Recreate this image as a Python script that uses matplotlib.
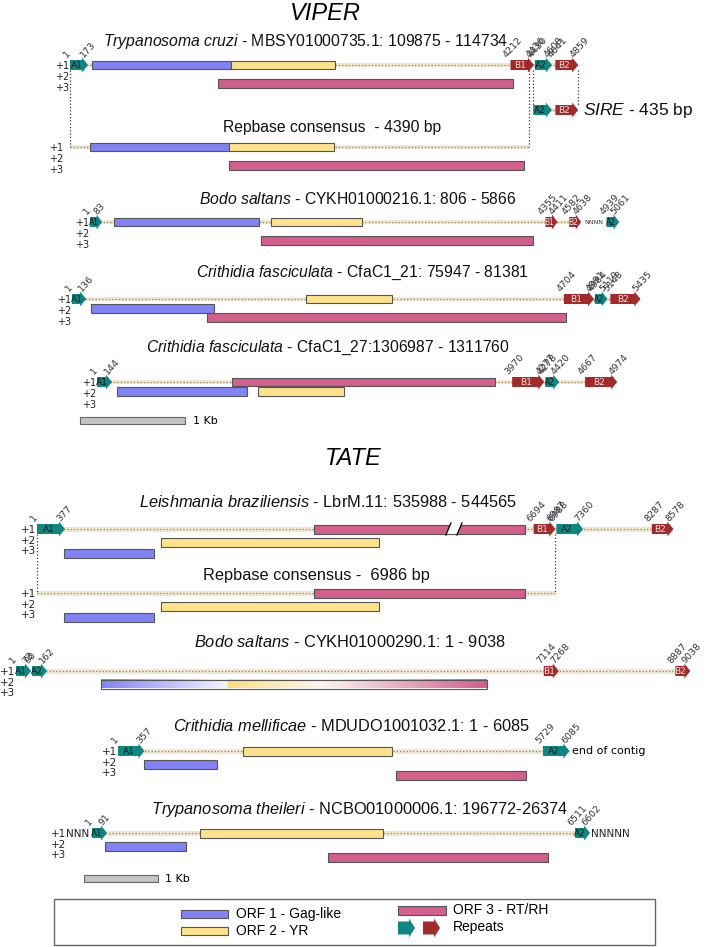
import matplotlib
matplotlib.use('Agg')
import matplotlib.pyplot as plt
import numpy as np
from matplotlib.patches import Rectangle, Polygon
from matplotlib.colors import LinearSegmentedColormap

plt.rcParams['font.family'] = ['Liberation Sans', 'DejaVu Sans']
plt.rcParams['mathtext.fontset'] = 'custom'
plt.rcParams['mathtext.it'] = 'Liberation Sans:italic'
plt.rcParams['mathtext.rm'] = 'Liberation Sans'

# ORFs: (start bp, end bp, reading frame, ORF number)   repeats: (start bp, end bp, name)
# ---------------- VIPER ----------------
tcruzi_name = ('Trypanosoma cruzi', 'MBSY01000735.1: 109875 - 114734')
tcruzi_len = 4859
tcruzi_orfs = [(210, 1539, 1, 1), (1539, 2533, 1, 2), (1415, 4235, 3, 3)]
tcruzi_repeats = [(1, 173, 'A1'), (4212, 4436, 'B1'), (4430, 4608, 'A2'), (4641, 4859, 'B2')]
sire_name = ('SIRE', '435 bp')
sire_repeats = [(4430, 4608, 'A2'), (4641, 4859, 'B2')]

viper_rep_name = 'Repbase consensus  - 4390 bp'
viper_rep_len = 4390
viper_rep_orfs = [(191, 1520, 1, 1), (1520, 2524, 1, 2), (1520, 4340, 3, 3)]

bodo1_name = ('Bodo saltans', 'CYKH01000216.1: 806 - 5866')
bodo1_len = 5061
bodo1_orfs = [(229, 1616, 1, 1), (1730, 2600, 1, 2), (1635, 4235, 3, 3)]
bodo1_repeats = [(1, 83, 'A1'), (4355, 4411, 'B1'), (4582, 4638, 'B2'), (4939, 5061, 'A2')]
bodo1_gap = (4638, 4939)

cfa21_name = ('Crithidia fasciculata', 'CfaC1_21: 75947 - 81381')
cfa21_len = 5435
cfa21_orfs = [(182, 1358, 2, 1), (2237, 3059, 1, 2), (1291, 4723, 3, 3)]
cfa21_repeats = [(1, 136, 'A1'), (4704, 4991, 'B1'), (4984, 5119, 'A2'), (5148, 5435, 'B2')]

cfa27_name = ('Crithidia fasciculata', 'CfaC1_27:1306987 - 1311760')
cfa27_len = 4974
cfa27_orfs = [(1291, 3805, 1, 3), (191, 1434, 2, 1), (1539, 2361, 2, 2)]
cfa27_repeats = [(1, 144, 'A1'), (3970, 4277, 'B1'), (4278, 4420, 'A2'), (4667, 4974, 'B2')]

# ---------------- TATE ----------------
leish_name = ('Leishmania braziliensis', 'LbrM.11: 535988 - 544565')
leish_len = 8578
leish_orfs = [(3733, 6577, 1, 3), (1671, 4609, 2, 2), (364, 1577, 3, 1)]
leish_break = (5539, 5701)
leish_repeats = [(1, 377, 'A1'), (6694, 6987, 'B1'), (6988, 7360, 'A2'), (8287, 8578, 'B2')]

tate_rep_name = 'Repbase consensus -  6986 bp'
tate_rep_len = 6986
tate_rep_orfs = [(3733, 6577, 1, 3), (1671, 4609, 2, 2), (364, 1577, 3, 1)]

bodo2_name = ('Bodo saltans', 'CYKH01000290.1: 1 - 9038')
bodo2_len = 9038
bodo2_orfs = [(1150, 6350, 2, 'mix')]
bodo2_repeats = [(1, 73, 'A1'), (90, 162, 'A2'), (7114, 7268, 'B1'), (8887, 9038, 'B2')]

cmel_name = ('Crithidia mellificae', 'MDUDO1001032.1: 1 - 6085')
cmel_len = 6085
cmel_orfs = [(1685, 3693, 1, 2), (350, 1334, 2, 1), (3747, 5499, 3, 3)]
cmel_repeats = [(1, 357, 'A1'), (5729, 6085, 'A2')]

tthe_name = ('Trypanosoma theileri', 'NCBO01000006.1: 196772-26374')
tthe_len = 6602
tthe_orfs = [(1456, 3922, 1, 2), (175, 1267, 2, 1), (3181, 6146, 3, 3)]
tthe_repeats = [(1, 91, 'A1'), (6511, 6602, 'A2')]

legend_labels = ['ORF 1 - Gag-like', 'ORF 2 - YR', 'ORF 3 - RT/RH', 'Repeats']
scale_bar_bp = 1000

# ---------------- drawing ----------------
orf_colors = {1: '#8282f7', 2: '#ffe38c', 3: '#d25f8c'}
rep_colors = {'A': '#0e8783', 'B': '#a12a2a'}
mix_cmap = LinearSegmentedColormap.from_list(
    'mix', [(0, '#8282f7'), (0.326, '#f3f3ff'), (0.327, '#fbe07c'),
            (0.575, '#fbf4f2'), (1, '#d25f8c')])

fig = plt.figure(figsize=(7.09, 9.47), dpi=100)
ax = fig.add_axes([0, 0, 1, 1])
ax.set_xlim(0, 709)
ax.set_ylim(947, 0)
ax.axis('off')

sv = 0.1046   # px per bp, VIPER
st = 0.0742   # px per bp, TATE
viper_style = dict(frame_dy=[0, 9.5, 18.5], row_dy=[1, 12, 23], bar_h=8.5, bb_h=4, row_fs=7, min_w=12)
tate_style = dict(frame_dy=[0, 13, 24], row_dy=[1, 11.5, 22], bar_h=9, bb_h=5, row_fs=7.5, min_w=15)


def px(x0, scale, bp):
    return x0 + (bp - 1) * scale


def backbone(xa, xb, y, h):
    ax.add_patch(Rectangle((xa, y - h / 2), xb - xa, h, facecolor='#f1e8d0', edgecolor='none', zorder=1))
    ax.plot([xa, xb], [y, y], ls=':', color='#8a8164', lw=0.9, zorder=2)


def arrow(xs, xe, y, kind, name=None, body_h=10, tip_h=15, tip=6):
    tip = min(tip, (xe - xs) * 0.45)
    pts = [(xs, y - body_h / 2), (xe - tip, y - body_h / 2), (xe - tip, y - tip_h / 2), (xe, y),
           (xe - tip, y + tip_h / 2), (xe - tip, y + body_h / 2), (xs, y + body_h / 2)]
    ax.add_patch(Polygon(pts, closed=True, facecolor=rep_colors[kind], edgecolor='none', zorder=4))
    if name:
        fs = 6.5 if xe - xs >= 14 else 5.5
        tc = '#111111' if kind == 'A' else '#f4dcdc'
        ax.text((xs + xe - tip) / 2 + 0.5, y + 0.5, name, fontsize=fs, color=tc, ha='center', va='center',
                family='DejaVu Sans', zorder=5)


def bar(xs, xe, yc, h, kind):
    if kind == 'mix':
        ax.imshow(np.linspace(0, 1, 256)[None, :], cmap=mix_cmap, aspect='auto',
                  extent=(xs, xe, yc + h / 2, yc - h / 2), zorder=3)
        ax.add_patch(Rectangle((xs, yc - h / 2), xe - xs, h, facecolor='none', edgecolor='#555555', lw=0.8, zorder=3))
    else:
        ax.add_patch(Rectangle((xs, yc - h / 2), xe - xs, h, facecolor=orf_colors[kind],
                               edgecolor='#555555', lw=0.8, zorder=3))


def track(x0, y, scale, length, orfs, repeats, style, lab_x=None, segments=None, numbers=True, rows=True):
    if segments is None:
        segments = [(1, length)]
    for a, b in segments:
        backbone(px(x0, scale, a), px(x0, scale, b), y, style['bb_h'])
    for s, e, frame, kind in orfs:
        bar(px(x0, scale, s), px(x0, scale, e), y + style['frame_dy'][frame - 1], style['bar_h'], kind)
    prev = -1e9
    for s, e, name in repeats:
        xs = max(px(x0, scale, s), prev + 1)
        xe = max(px(x0, scale, e), xs + style['min_w'])
        arrow(xs, xe, y, name[0], name)
        if numbers:
            for xv, v in ((xs - 2, s), (xe - 3, e)):
                ax.text(xv, y - 6, str(v), fontsize=6.8, rotation=48, rotation_mode='anchor',
                        ha='left', va='bottom', color='#333333', family='DejaVu Sans', zorder=6)
        prev = xe
    if rows:
        lx = x0 - 1 if lab_x is None else lab_x
        for i, dy in enumerate(style['row_dy']):
            ax.text(lx, y + dy, '+%d' % (i + 1), fontsize=style['row_fs'], ha='right', va='center',
                    family='DejaVu Sans', color='#222222')


def title(x, y, name, fs, ha='center'):
    if isinstance(name, tuple):
        sp, rest = name
        s = r'$\mathit{' + sp.replace(' ', r'\ ') + '}$ - ' + rest
    else:
        s = name
    ax.text(x, y, s, fontsize=fs, ha=ha, va='center', color='#111111')


def connector(x, y1, y2):
    ax.plot([x, x], [y1, y2], ls=':', color='#333333', lw=0.9, zorder=2)


# ---- VIPER section ----
ax.text(325, 13, 'VIPER', fontsize=17, style='italic', ha='center', va='center')

title(306, 41, tcruzi_name, 11.3)
connector(px(70, sv, 1), 70, 147)
connector(px(70, sv, viper_rep_len), 70, 147)
connector(px(70, sv, sire_repeats[0][0]), 70, 105)
connector(px(70, sv, sire_repeats[1][1]), 70, 105)
track(70, 65, sv, tcruzi_len, tcruzi_orfs, tcruzi_repeats, viper_style, lab_x=69)
track(70, 110, sv, tcruzi_len, [], sire_repeats, viper_style,
      segments=[(sire_repeats[0][0], sire_repeats[1][1])], numbers=False, rows=False)
title(583, 110, sire_name, 12.5, ha='left')

title(332, 127, viper_rep_name, 11.3)
track(70, 147, sv, viper_rep_len, viper_rep_orfs, [], viper_style, lab_x=63)

title(358, 199, bodo1_name, 11.3)
track(90, 222, sv, bodo1_len, bodo1_orfs, bodo1_repeats, viper_style, segments=[(1, bodo1_gap[0])])
ax.text((px(90, sv, bodo1_gap[0]) + px(90, sv, bodo1_gap[1])) / 2 + 3, 222.5, 'NNNN', fontsize=4.5,
        ha='center', va='center', family='DejaVu Sans', color='#333333')

title(362, 273, cfa21_name, 11.3)
track(72, 299, sv, cfa21_len, cfa21_orfs, cfa21_repeats, viper_style)

title(328, 348, cfa27_name, 11.3)
track(97, 382, sv, cfa27_len, cfa27_orfs, cfa27_repeats, viper_style)

ax.add_patch(Rectangle((80, 416.5), scale_bar_bp * sv, 7, facecolor='#c4c4c4', edgecolor='#666666', lw=0.8))
ax.text(80 + scale_bar_bp * sv + 8, 420.5, '1 Kb', fontsize=8, ha='left', va='center', family='DejaVu Sans')

# ---- TATE section ----
ax.text(353, 458, 'TATE', fontsize=17, style='italic', ha='center', va='center')

title(328, 502, leish_name, 11.8)
connector(px(37, st, 1), 534, 593)
connector(px(37, st, tate_rep_len), 534, 593)
track(37, 529, st, leish_len, leish_orfs, leish_repeats, tate_style)
# break mark in ORF3
bx1, bx2 = px(37, st, leish_break[0]), px(37, st, leish_break[1])
ax.add_patch(Polygon([(bx1 - 2, 534), (bx1 + 3, 524), (bx2 + 2, 524), (bx2 - 3, 534)],
                     closed=True, facecolor='white', edgecolor='none', zorder=3.5))
for bx in (bx1 - 2, bx2 - 3):
    ax.plot([bx, bx + 5], [535, 523], color='#111111', lw=1.0, zorder=3.6)

title(316, 575, tate_rep_name, 11.8)
track(37, 593, st, tate_rep_len, tate_rep_orfs, [], tate_style)

title(350, 642, bodo2_name, 11.8)
track(16, 671, st, bodo2_len, bodo2_orfs, bodo2_repeats, tate_style, lab_x=15.5)

title(352, 726, cmel_name, 11.8)
track(118, 751, st, cmel_len, cmel_orfs, cmel_repeats, tate_style)
ax.text(px(118, st, cmel_len) + 3, 751, 'end of contig', fontsize=8, ha='left', va='center', family='DejaVu Sans')

title(360, 809, tthe_name, 11.8)
track(92, 833, st, tthe_len, tthe_orfs, tthe_repeats, tate_style, lab_x=66)
ax.text(66, 834, 'NNN', fontsize=7.5, ha='left', va='center', family='DejaVu Sans', color='#222222')
ax.text(px(92, st, tthe_len) + 9, 834, 'NNNNN', fontsize=7.5, ha='left', va='center', family='DejaVu Sans',
        color='#222222')

ax.add_patch(Rectangle((84, 874.5), scale_bar_bp * st, 7, facecolor='#c4c4c4', edgecolor='#666666', lw=0.8))
ax.text(84 + scale_bar_bp * st + 7, 878.5, '1 Kb', fontsize=8, ha='left', va='center', family='DejaVu Sans')

# ---- legend ----
ax.add_patch(Rectangle((54, 899), 601, 46, facecolor='none', edgecolor='#666666', lw=1.0))
bar(181, 228, 914, 8.5, 1)
bar(181, 228, 931, 8.5, 2)
bar(398, 446, 910.5, 8.5, 3)
arrow(398, 415, 928, 'A', body_h=13, tip_h=19)
arrow(423, 440, 928, 'B', body_h=13, tip_h=19)
ax.text(236, 914, legend_labels[0], fontsize=10, ha='left', va='center')
ax.text(236, 931, legend_labels[1], fontsize=10, ha='left', va='center')
ax.text(453, 910, legend_labels[2], fontsize=10, ha='left', va='center')
ax.text(453, 927, legend_labels[3], fontsize=10, ha='left', va='center')

ax.set_xlim(0, 709)
ax.set_ylim(947, 0)
fig.savefig('out.png', dpi=100)
